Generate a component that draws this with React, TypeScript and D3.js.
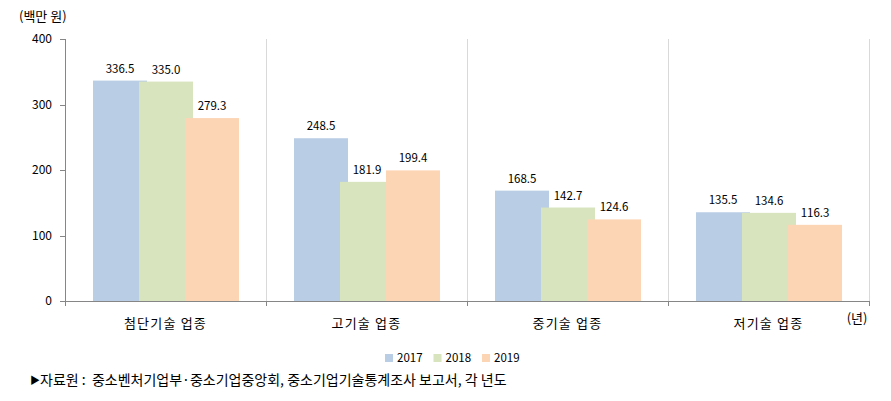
import React from "react";
import * as d3 from "d3";

const categories = ["첨단기술 업종", "고기술 업종", "중기술 업종", "저기술 업종"];
const seriesNames = ["2017", "2018", "2019"];
const values2017 = [336.5, 248.5, 168.5, 135.5];
const values2018 = [335.0, 181.9, 142.7, 134.6];
const values2019 = [279.3, 199.4, 124.6, 116.3];
const yTicks = [0, 100, 200, 300, 400];
const colors = ["#B9CDE5", "#D7E4BD", "#FCD5B5"];
const unitLabel = "(백만 원)";
const xUnitLabel = "(년)";
const sourceMarker = "▶";
const sourceText = "자료원 :  중소벤처기업부·중소기업중앙회, 중소기업기술통계조사 보고서, 각 년도";

const W = 891;
const H = 401;
const left = 65;
const right = 869;
const top = 39;
const bottom = 301;
const font = "'Noto Sans CJK KR', 'Noto Sans', sans-serif";

export default function App() {
  const series = [values2017, values2018, values2019];
  const x0 = d3.scaleBand<string>().domain(categories).range([left, right]).padding(0);
  const y = d3.scaleLinear().domain([0, 400]).range([bottom, top]);
  const gw = x0.bandwidth();
  const x1 = d3.scaleBand<string>().domain(seriesNames).range([28, 28 + 138]).padding(0);
  const barW = x1.bandwidth() * (54 / 46);

  return (
    <div style={{ margin: -8 }}>
      <svg width={W} height={H} style={{ display: "block", fontFamily: font }}>
        <rect width={W} height={H} fill="#fff" />
        {categories.map((c) => (
          <line key={c} x1={(x0(c) as number) + gw + 0.5} x2={(x0(c) as number) + gw + 0.5} y1={top} y2={bottom + 5} stroke="#D9D9D9" />
        ))}
        <line x1={left + 0.5} x2={left + 0.5} y1={top} y2={bottom} stroke="#868686" />
        {yTicks.map((t) => (
          <g key={t}>
            <line x1={left - 5} x2={left} y1={Math.round(y(t)) + 0.5} y2={Math.round(y(t)) + 0.5} stroke="#868686" />
            <text x={left - 13} y={y(t)} dy="0.35em" textAnchor="end" fontSize={12} fill="#000">{t}</text>
          </g>
        ))}
        {seriesNames.map((s, si) =>
          categories.map((c, ci) => {
            const bx = (x0(c) as number) + (x1(s) as number);
            const v = series[si][ci];
            return <rect key={s + c} x={bx} y={y(v)} width={barW} height={bottom - y(v)} fill={colors[si]} />;
          })
        )}
        {seriesNames.map((s, si) =>
          categories.map((c, ci) => {
            const bx = (x0(c) as number) + (x1(s) as number);
            const v = series[si][ci];
            return (
              <text key={"l" + s + c} x={bx + barW / 2} y={y(v) - 8} textAnchor="middle" fontSize={11.5} fill="#000">
                {v.toFixed(1)}
              </text>
            );
          })
        )}
        <line x1={left - 5} x2={right} y1={bottom + 0.5} y2={bottom + 0.5} stroke="#868686" />
        {[left, ...categories.map((c) => (x0(c) as number) + gw)].map((tx, i) => (
          <line key={"xt" + i} x1={tx + 0.5} x2={tx + 0.5} y1={bottom} y2={bottom + 5} stroke="#868686" />
        ))}
        {categories.map((c) => (
          <text key={"c" + c} x={(x0(c) as number) + gw / 2} y={323} dy="0.35em" textAnchor="middle" fontSize={13} letterSpacing={1.2} fill="#000">
            {c}
          </text>
        ))}
        <text x={857} y={318} dy="0.35em" textAnchor="middle" fontSize={13} fill="#000">{xUnitLabel}</text>
        <text x={19} y={16} dy="0.35em" fontSize={13} fill="#000">{unitLabel}</text>
        {seriesNames.map((s, i) => {
          const lx = 385 + i * 48.5;
          return (
            <g key={"lg" + s}>
              <rect x={lx} y={354} width={8} height={8} fill={colors[i]} />
              <text x={lx + 12} y={358} dy="0.35em" fontSize={11.5} fill="#000">{s}</text>
            </g>
          );
        })}
        <text x={30} y={380} dy="0.35em" fontSize={10} fill="#000">{sourceMarker}</text>
        <text x={40} y={380} dy="0.35em" fontSize={14} fill="#000" xmlSpace="preserve" style={{ whiteSpace: "pre" }}>{sourceText}</text>
      </svg>
    </div>
  );
}
